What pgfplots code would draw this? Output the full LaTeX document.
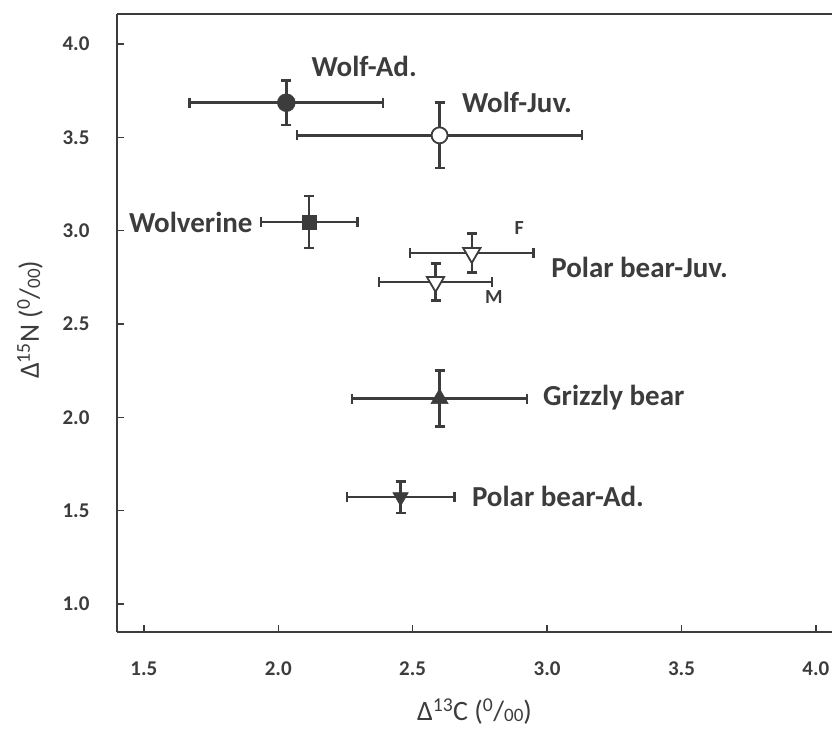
\documentclass[border=0pt]{standalone}
\usepackage{fontspec}
\setmainfont{Carlito}
\usepackage{pgfplots}
\pgfplotsset{compat=1.18}
\definecolor{dg}{HTML}{3C3C3C}
\pgfplotsset{
  eb/.style={only marks, color=dg,
    error bars/x dir=both, error bars/x explicit,
    error bars/y dir=both, error bars/y explicit,
    error bars/error bar style={line width=2.6bp, dg},
    error bars/error mark options={rotate=90, mark size=5bp, line width=2.6bp, dg}},
}
\begin{document}
\begin{tikzpicture}
\begin{axis}[
  scale only axis, width=715bp, height=618bp,
  xmin=1.4, xmax=4.06, ymin=0.85, ymax=4.16,
  axis x line*=bottom, axis y line*=left,
  axis line style={dg, line width=1.8bp},
  xtick={1.5,2,2.5,3,3.5,4}, ytick={1,1.5,2,2.5,3,3.5,4},
  tick align=inside, major tick length=7bp,
  tick style={dg, line width=1.4bp},
  /pgf/number format/assume math mode=true,
  /pgf/number format/fixed, /pgf/number format/fixed zerofill, /pgf/number format/precision=1,
  ticklabel style={font=\fontsize{21bp}{23bp}\selectfont\bfseries, text=dg},
  yticklabel style={xshift=-24bp},
  xticklabel style={yshift=-26bp},
  xlabel={Δ\textsuperscript{13}C (\textsuperscript{0}/\raisebox{-0.1ex}{\fontsize{19bp}{20bp}\selectfont 00})},
  ylabel={Δ\textsuperscript{15}N (\textsuperscript{0}/\raisebox{-0.1ex}{\fontsize{19bp}{20bp}\selectfont 00})},
  label style={font=\fontsize{28bp}{30bp}\selectfont, text=dg},
  xlabel style={at={(axis description cs:0.5,-0.128)}, anchor=center},
  ylabel style={at={(axis description cs:-0.1217,0.505)}, anchor=center},
  clip=false,
]
% Wolf-Ad.
\addplot[eb, mark=*, mark size=9bp, mark options={fill=dg, draw=dg}]
  coordinates {(2.03,3.685) +- (0.36,0.12)};
% Wolf-Juv.
\addplot[eb, mark=*, mark size=8bp, mark options={fill=white, draw=dg, line width=1.8bp}]
  coordinates {(2.60,3.51) +- (0.53,0.175)};
% Wolverine
\addplot[eb, mark=square*, mark size=7bp, mark options={fill=dg, draw=dg}]
  coordinates {(2.115,3.046) +- (0.18,0.14)};
% Polar bear-Juv. F
\addplot[eb, mark=triangle*, mark size=10bp, mark options={rotate=180, fill=white, draw=dg, line width=1.8bp}]
  coordinates {(2.72,2.88) +- (0.23,0.105)};
% Polar bear-Juv. M
\addplot[eb, mark=triangle*, mark size=10bp, mark options={rotate=180, fill=white, draw=dg, line width=1.8bp}]
  coordinates {(2.585,2.725) +- (0.21,0.10)};
% Grizzly bear
\addplot[eb, mark=triangle*, mark size=10bp, mark options={fill=dg, draw=dg}]
  coordinates {(2.60,2.10) +- (0.325,0.15)};
% Polar bear-Ad.
\addplot[eb, mark=triangle*, mark size=9bp, mark options={rotate=180, fill=dg, draw=dg}]
  coordinates {(2.455,1.572) +- (0.20,0.085)};

\begin{scope}[every node/.style={font=\fontsize{29bp}{32bp}\selectfont\bfseries, text=dg, inner sep=0pt}]
\node[anchor=west] at (axis cs:2.123,3.877) {Wolf-Ad.};
\node[anchor=west] at (axis cs:2.683,3.684) {Wolf-Juv.};
\node[anchor=east] at (axis cs:1.905,3.046) {Wolverine};
\node[anchor=west] at (axis cs:3.015,2.80) {Polar bear-Juv.};
\node[anchor=west] at (axis cs:2.985,2.103) {Grizzly bear};
\node[anchor=west] at (axis cs:2.72,1.578) {Polar bear-Ad.};
\node[anchor=center, font=\fontsize{20bp}{22bp}\selectfont\bfseries] at (axis cs:2.896,3.014) {F};
\node[anchor=center, font=\fontsize{20bp}{22bp}\selectfont\bfseries] at (axis cs:2.802,2.644) {M};
\end{scope}
\draw[dg, line width=1.8bp] (rel axis cs:0,1) -- (rel axis cs:1,1);
\coordinate (SW) at (rel axis cs:0,0);
\coordinate (NE) at (rel axis cs:1,1);
\end{axis}
\pgfresetboundingbox
\path ([shift={(-117bp,-99bp)}]SW) rectangle ([shift={(0bp,14bp)}]NE);
\end{tikzpicture}
\end{document}
